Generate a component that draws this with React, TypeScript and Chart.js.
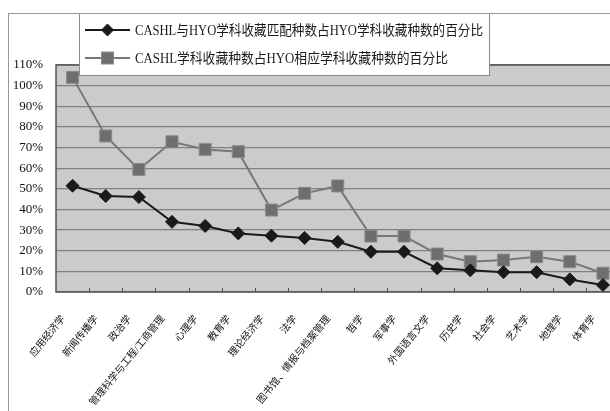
import React, { useEffect, useRef } from "react";
import { Chart, registerables } from "chart.js";

Chart.register(...registerables);

const categories = [
  "应用经济学",
  "新闻传播学",
  "政治学",
  "管理科学与工程/工商管理",
  "心理学",
  "教育学",
  "理论经济学",
  "法学",
  "图书馆、情报与档案管理",
  "哲学",
  "军事学",
  "外国语言文学",
  "历史学",
  "社会学",
  "艺术学",
  "地理学",
  "体育学",
];

const matchedPct = [51.5, 46.5, 46, 34, 32, 28.4, 27.3, 26.2, 24.3, 19.5, 19.5, 11.5, 10.5, 9.6, 9.6, 6.1, 3.4];
const coveragePct = [104, 75.6, 59.4, 72.8, 69.1, 68, 39.7, 47.8, 51.4, 27.1, 27.1, 18.4, 14.7, 15.5, 17.1, 14.7, 9.1];

const seriesNames = [
  "CASHL与HYO学科收藏匹配种数占HYO学科收藏种数的百分比",
  "CASHL学科收藏种数占HYO相应学科收藏种数的百分比",
];

const yTicksMax = 110;
const yTicksStep = 10;

const SERIF = "'Liberation Serif', 'DejaVu Serif', 'Noto Sans CJK SC', serif";

const bgPlugin = {
  id: "plotBg",
  beforeDraw(chart: any) {
    const { ctx, chartArea } = chart;
    ctx.save();
    ctx.fillStyle = "#cbcbcb";
    ctx.fillRect(chartArea.left, chartArea.top, chartArea.right - chartArea.left, chartArea.bottom - chartArea.top);
    ctx.restore();
  },
  afterDraw(chart: any) {
    const { ctx, chartArea } = chart;
    const xs = chart.scales.x;
    ctx.save();
    // inner tick marks on x axis at category boundaries
    ctx.strokeStyle = "#555";
    ctx.lineWidth = 1;
    const n = categories.length;
    const w = (chartArea.right - chartArea.left) / n;
    for (let i = 1; i < n; i++) {
      const x = Math.round(chartArea.left + i * w) + 0.5;
      ctx.beginPath();
      ctx.moveTo(x, chartArea.bottom);
      ctx.lineTo(x, chartArea.bottom - 4);
      ctx.stroke();
    }
    // plot border
    ctx.strokeStyle = "#555";
    ctx.lineWidth = 1.5;
    ctx.strokeRect(chartArea.left, chartArea.top, chartArea.right - chartArea.left, chartArea.bottom - chartArea.top);

    // rotated category labels
    ctx.fillStyle = "#111";
    ctx.font = "10px " + SERIF;
    ctx.textAlign = "right";
    ctx.textBaseline = "middle";
    categories.forEach((c, i) => {
      const x = xs.getPixelForValue(i);
      ctx.save();
      ctx.translate(x - 9, chartArea.bottom + 25);
      ctx.rotate((-51 * Math.PI) / 180);
      ctx.fillText(c, 0, 0);
      ctx.restore();
    });

    // legend box
    const bx = 70.5, by = -0.5, bw = 410, bh = 62;
    ctx.fillStyle = "#ffffff";
    ctx.fillRect(bx, by, bw, bh);
    ctx.strokeStyle = "#8a8a8a";
    ctx.lineWidth = 1;
    ctx.strokeRect(bx, by, bw, bh);
    const rows = [16, 44];
    const widths = [348, 313];
    chart.data.datasets.forEach((ds: any, i: number) => {
      const y = rows[i];
      ctx.strokeStyle = ds.borderColor;
      ctx.lineWidth = 2;
      ctx.beginPath();
      ctx.moveTo(76, y);
      ctx.lineTo(121, y);
      ctx.stroke();
      ctx.fillStyle = ds.pointBackgroundColor;
      ctx.strokeStyle = ds.pointBorderColor;
      ctx.lineWidth = 1;
      if (i === 0) {
        ctx.beginPath();
        ctx.moveTo(98.5, y - 6);
        ctx.lineTo(104.5, y);
        ctx.lineTo(98.5, y + 6);
        ctx.lineTo(92.5, y);
        ctx.closePath();
        ctx.fill();
        ctx.stroke();
      } else {
        ctx.fillRect(92.5, y - 6, 12, 12);
        ctx.strokeRect(92.5, y - 6, 12, 12);
      }
      ctx.fillStyle = "#1a1a1a";
      ctx.font = "14px " + SERIF;
      ctx.textBaseline = "middle";
      ctx.textAlign = "left";
      ctx.fillText(ds.label, 126, y + 1, widths[i]);
    });
    ctx.restore();
  },
};

export default function App() {
  const ref = useRef<HTMLCanvasElement>(null);
  useEffect(() => {
    if (!ref.current) return;
    const chart = new Chart(ref.current, {
      type: "line",
      data: {
        labels: categories,
        datasets: [
          {
            label: seriesNames[0],
            data: matchedPct,
            borderColor: "#1a1a1a",
            borderWidth: 2,
            pointStyle: "rectRot",
            pointRadius: 6.5,
            pointBackgroundColor: "#1a1a1a",
            pointBorderColor: "#1a1a1a",
            pointBorderWidth: 1,
            tension: 0,
          },
          {
            label: seriesNames[1],
            data: coveragePct,
            borderColor: "#777777",
            borderWidth: 2,
            pointStyle: "rect",
            pointRadius: 8.5,
            pointBackgroundColor: "#6e6e6e",
            pointBorderColor: "#8c8c8c",
            pointBorderWidth: 1,
            tension: 0,
          },
        ],
      },
      options: {
        responsive: false,
        animation: false,
        layout: { padding: { top: 51, right: 9, left: 0, bottom: 0 } },
        plugins: { legend: { display: false }, tooltip: { enabled: false } },
        scales: {
          x: {
            offset: true,
            grid: { display: false, drawTicks: false },
            border: { display: false },
            ticks: { display: false },
            afterFit: (s: any) => {
              s.height = 119;
            },
          },
          y: {
            min: 0,
            max: yTicksMax,
            grid: { color: "#808080", lineWidth: 1.2, drawTicks: false },
            border: { display: false },
            ticks: {
              stepSize: yTicksStep,
              padding: 13,
              color: "#111",
              font: { family: SERIF, size: 13 },
              callback: (v: any) => v + "%",
            },
            afterFit: (s: any) => {
              s.width = 47;
            },
          },
        },
      },
      plugins: [bgPlugin],
    });
    return () => chart.destroy();
  }, []);

  return (
    <div style={{ position: "fixed", left: 0, top: 0, width: 610, height: 411, overflow: "hidden", background: "#fff" }}>
      <div
        style={{
          position: "absolute",
          left: 8,
          top: 13,
          width: 700,
          height: 500,
          borderLeft: "1px solid #999",
          borderTop: "1px solid #999",
        }}
      >
        <canvas ref={ref} width={620} height={397} style={{ display: "block" }} />
      </div>
    </div>
  );
}
